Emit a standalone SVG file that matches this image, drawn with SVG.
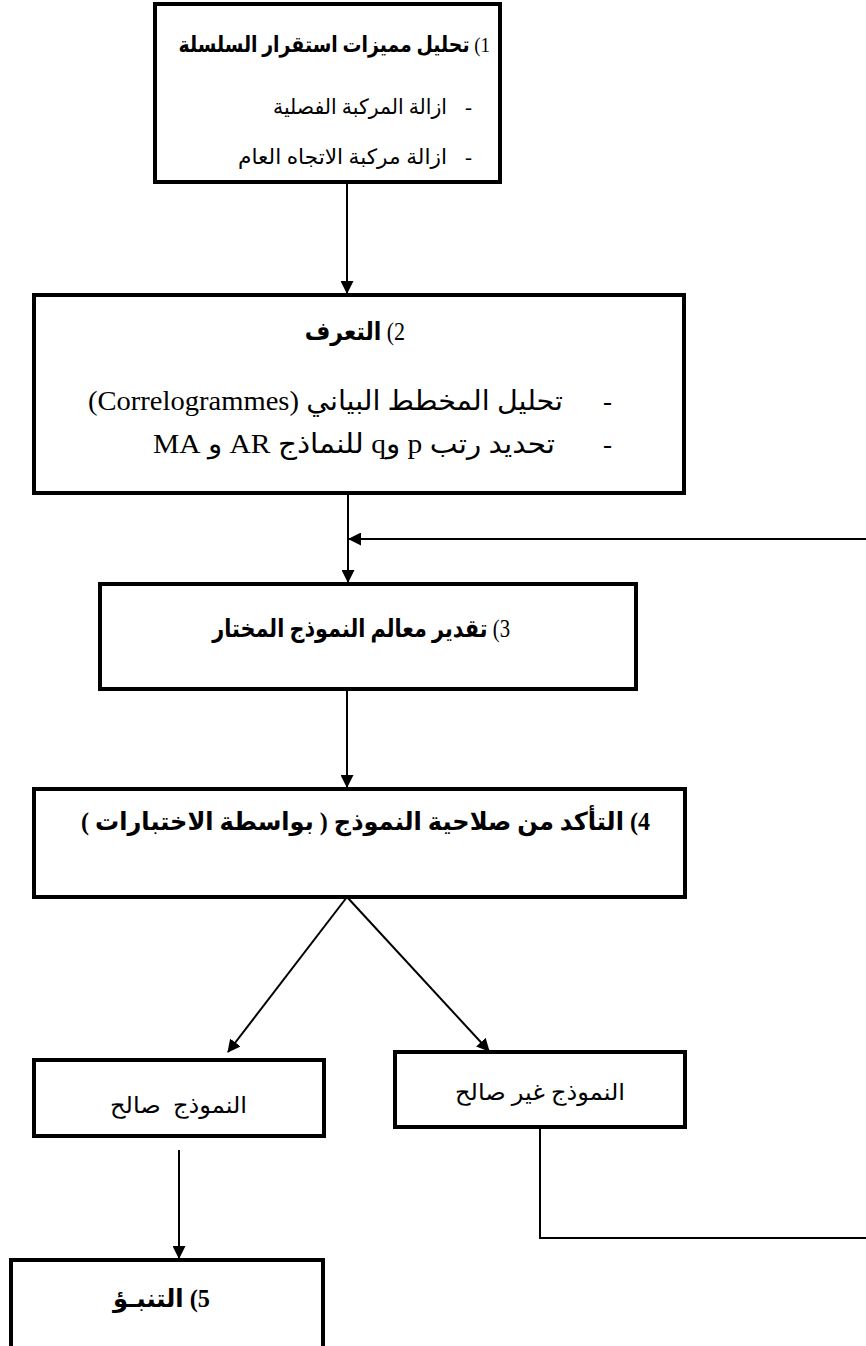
<svg xmlns="http://www.w3.org/2000/svg" width="866" height="1346" viewBox="0 0 866 1346">
<style>
.box{fill:#fff;stroke:#000;stroke-width:4}
.t{font-family:'Liberation Serif','DejaVu Sans',serif;fill:#000}
.b{font-weight:bold}
.c{stroke:#000;stroke-width:2;fill:none}
</style>
<defs>
<marker id="ah" viewBox="0 0 13 13" refX="12" refY="6.5" markerWidth="13" markerHeight="13" markerUnits="userSpaceOnUse" orient="auto">
<path d="M0,0 L13,6.5 L0,13 z" fill="#000"/>
</marker>
</defs>
<rect width="866" height="1346" fill="#fff"/>
<g id="connectors">
<line class="c" x1="347" y1="182" x2="347" y2="293" marker-end="url(#ah)"/>
<line class="c" x1="348" y1="493" x2="348" y2="582" marker-end="url(#ah)"/>
<line class="c" x1="866" y1="539" x2="349" y2="539" marker-end="url(#ah)"/>
<line class="c" x1="347" y1="689" x2="347" y2="787" marker-end="url(#ah)"/>
<line class="c" x1="347" y1="897" x2="228" y2="1052" marker-end="url(#ah)"/>
<line class="c" x1="347" y1="897" x2="489" y2="1051" marker-end="url(#ah)"/>
<line class="c" x1="179" y1="1150" x2="179" y2="1258" marker-end="url(#ah)"/>
<polyline class="c" points="540,1127 540,1238 866,1238"/>
</g>
<g id="n1">
<rect class="box" x="155" y="4" width="345" height="178"/>
<text class="t" transform="translate(490,52) scale(0.86,1)" x="0" y="0" font-size="22" direction="rtl" text-anchor="start">1) <tspan class="b">تحليل مميزات استقرار السلسلة</tspan></text>
<text class="t" x="465" y="114" font-size="21">-</text>
<text class="t" x="447" y="114" font-size="21" direction="rtl" text-anchor="start" textLength="174" lengthAdjust="spacingAndGlyphs">ازالة المركبة الفصلية</text>
<text class="t" x="465" y="164" font-size="21">-</text>
<text class="t" x="447" y="164" font-size="21" direction="rtl" text-anchor="start" textLength="209" lengthAdjust="spacingAndGlyphs">ازالة مركبة الاتجاه العام</text>
</g>
<g id="n2">
<rect class="box" x="34" y="295" width="650" height="198"/>
<text class="t" transform="translate(405,340) scale(0.88,1)" x="0" y="0" font-size="25" direction="rtl" text-anchor="start">2) <tspan class="b">التعرف</tspan></text>
<text class="t" x="603" y="410" font-size="27">-</text>
<text class="t" x="563" y="410" font-size="27" direction="rtl" text-anchor="start" textLength="475" lengthAdjust="spacingAndGlyphs">تحليل المخطط البياني (Correlogrammes)</text>
<text class="t" x="603" y="453" font-size="27">-</text>
<text class="t" x="555" y="453" font-size="27" direction="rtl" text-anchor="start" textLength="402" lengthAdjust="spacingAndGlyphs">تحديد رتب p وq للنماذج AR و MA</text>
</g>
<g id="n3">
<rect class="box" x="100" y="584" width="536" height="105"/>
<text class="t" transform="translate(510,637) scale(0.83,1)" x="0" y="0" font-size="25" direction="rtl" text-anchor="start">3) <tspan class="b">تقدير معالم النموذج المختار</tspan></text>
</g>
<g id="n4">
<rect class="box" x="34" y="789" width="651" height="108"/>
<text class="t b" x="650" y="830" font-size="25" direction="rtl" text-anchor="start" textLength="569" lengthAdjust="spacingAndGlyphs">4) التأكد من صلاحية النموذج ( بواسطة الاختبارات )</text>
</g>
<g id="n5">
<rect class="box" x="34" y="1060" width="290" height="76"/>
<text class="t" x="247" y="1113" font-size="23" direction="rtl" text-anchor="start" textLength="137" lengthAdjust="spacingAndGlyphs" xml:space="preserve">النموذج  صالح</text>
</g>
<g id="n6">
<rect class="box" x="395" y="1052" width="290" height="75"/>
<text class="t" x="625" y="1100" font-size="23" direction="rtl" text-anchor="start" textLength="170" lengthAdjust="spacingAndGlyphs">النموذج غير صالح</text>
</g>
<g id="n7">
<rect class="box" x="11" y="1260" width="312" height="100"/>
<text class="t b" x="210" y="1307" font-size="25" direction="rtl" text-anchor="start" textLength="97" lengthAdjust="spacingAndGlyphs">5) التنبـؤ</text>
</g>
</svg>
